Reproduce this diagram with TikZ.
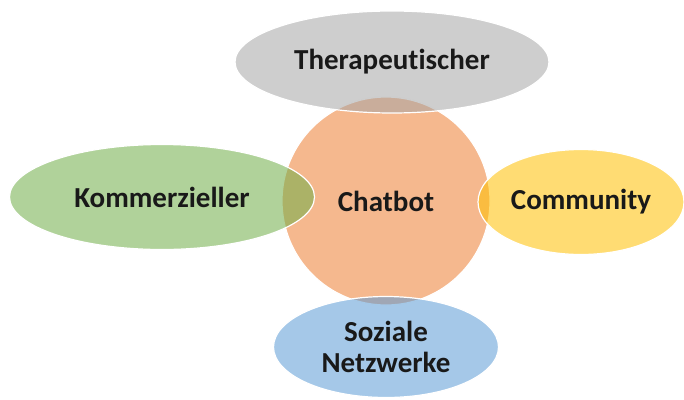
\documentclass[tikz,border=0pt]{standalone}
\usepackage{fontspec}
\setmainfont[Ligatures=NoCommon]{Carlito}
\usetikzlibrary{shapes.geometric}
\definecolor{chatorange}{HTML}{ED7D31}
\definecolor{therapgray}{HTML}{A5A5A5}
\definecolor{kommgreen}{HTML}{70AD47}
\definecolor{commyellow}{HTML}{FFC000}
\definecolor{sozialblue}{HTML}{5B9BD5}

\begin{document}
\begin{tikzpicture}[x=1pt,y=-1pt,
  blob/.style={ellipse, draw=white, line width=1.2pt, fill opacity=0.55,
    text opacity=1, inner sep=0pt, align=center, text=black!90,
    font=\fontsize{29}{31}\selectfont\bfseries}]
\useasboundingbox (0,0) rectangle (684,399);

\node [blob, circle, fill=chatorange, minimum size=208pt] (chatbot) at (386,201) {Chatbot};

\node [blob, fill=therapgray, minimum width=314pt, minimum height=102pt] (therap) at (392,62) {Therapeutischer};
\node [blob, fill=kommgreen, minimum width=305pt, minimum height=105pt] (komm) at (162,197) {Kommerzieller};
\node [blob, fill=commyellow, minimum width=206pt, minimum height=105pt] (comm) at (581,202) {Community};
\node [blob, fill=sozialblue, minimum width=225pt, minimum height=101pt] (sozial) at (386,347) {Soziale\\Netzwerke};

\end{tikzpicture}
\end{document}
